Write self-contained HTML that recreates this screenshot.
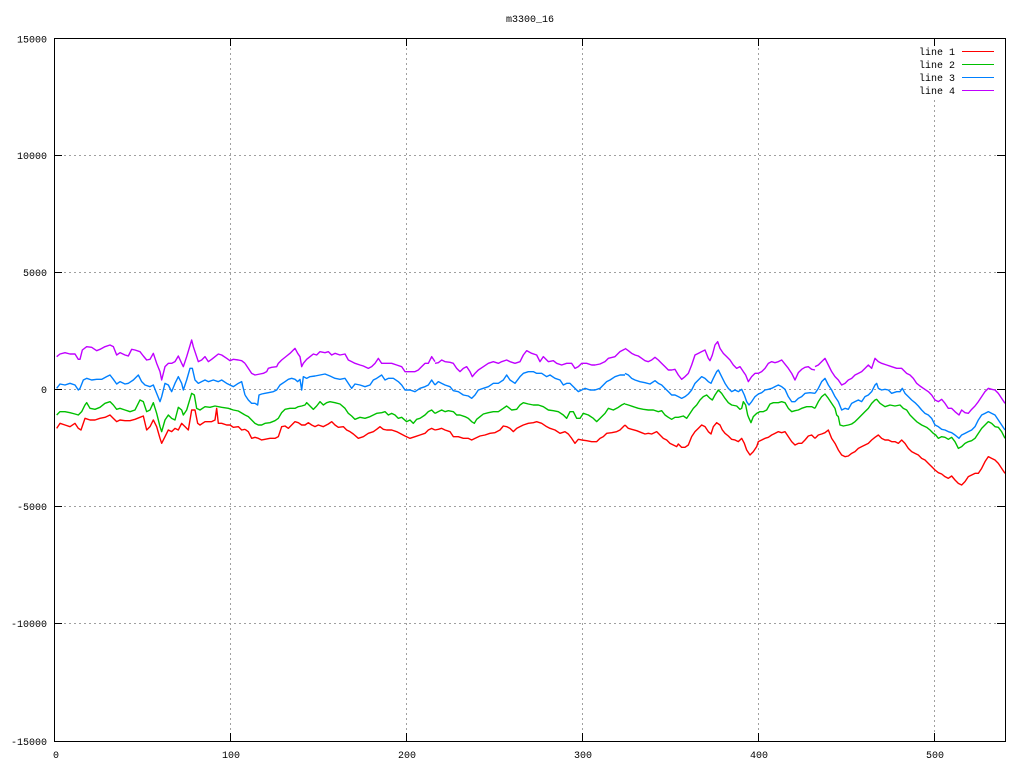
<!DOCTYPE html>
<html><head><meta charset="utf-8"><style>
html,body{margin:0;padding:0;background:#fff;}
svg{display:block;}
text{font-family:"Liberation Mono","DejaVu Sans Mono",monospace;font-size:10px;fill:#000;}
</style></head><body>
<svg width="1024" height="768" viewBox="0 0 1024 768" xmlns="http://www.w3.org/2000/svg">
<rect width="1024" height="768" fill="#fff"/>
<text x="530" y="22" text-anchor="middle">m3300_16</text>
<g stroke="#a0a0a0" stroke-width="1" stroke-dasharray="2,3" fill="none">
<line x1="230.5" y1="38" x2="230.5" y2="741"/>
<line x1="406.5" y1="38" x2="406.5" y2="741"/>
<line x1="582.5" y1="38" x2="582.5" y2="741"/>
<line x1="758.5" y1="38" x2="758.5" y2="741"/>
<line x1="934.5" y1="100" x2="934.5" y2="741"/>
<line x1="54" y1="155.5" x2="1005" y2="155.5"/>
<line x1="54" y1="272.5" x2="1005" y2="272.5"/>
<line x1="54" y1="389.5" x2="1005" y2="389.5"/>
<line x1="54" y1="506.5" x2="1005" y2="506.5"/>
<line x1="54" y1="623.5" x2="1005" y2="623.5"/>
</g>
<g stroke="#000" stroke-width="1" fill="none" shape-rendering="crispEdges">
<rect x="54.5" y="38.5" width="951" height="703"/>
<path d="M54 38.5h8M1005 38.5h-8M54 155.5h8M1005 155.5h-8M54 272.5h8M1005 272.5h-8M54 389.5h8M1005 389.5h-8M54 506.5h8M1005 506.5h-8M54 623.5h8M1005 623.5h-8M54 741.5h8M1005 741.5h-8"/>
<path d="M230.5 741v-8M230.5 38v8M406.5 741v-8M406.5 38v8M582.5 741v-8M582.5 38v8M758.5 741v-8M758.5 38v8M934.5 741v-8M934.5 38v8"/>
</g>
<g text-anchor="end">
<text x="47" y="42.5">15000</text>
<text x="47" y="159">10000</text>
<text x="47" y="276">5000</text>
<text x="47" y="393">0</text>
<text x="47" y="510">-5000</text>
<text x="47" y="627">-10000</text>
<text x="47" y="745">-15000</text>
</g>
<g text-anchor="middle">
<text x="56" y="758">0</text>
<text x="231" y="758">100</text>
<text x="407" y="758">200</text>
<text x="583" y="758">300</text>
<text x="759" y="758">400</text>
<text x="935" y="758">500</text>
</g>
<g text-anchor="end">
<text x="955" y="55">line 1</text>
<text x="955" y="68">line 2</text>
<text x="955" y="81">line 3</text>
<text x="955" y="94">line 4</text>
</g>
<g shape-rendering="crispEdges">
<line x1="962" y1="51.5" x2="994" y2="51.5" stroke="#ff0000"/>
<line x1="962" y1="64.5" x2="994" y2="64.5" stroke="#00c000"/>
<line x1="962" y1="77.5" x2="994" y2="77.5" stroke="#0080ff"/>
<line x1="962" y1="90.5" x2="994" y2="90.5" stroke="#c000ff"/>
</g>

<defs><clipPath id="c"><rect x="55" y="39" width="950" height="702"/></clipPath></defs>
<g clip-path="url(#c)" fill="none" stroke-width="1.4" stroke-linejoin="round">
<!-- segment 1 -->
<g transform="translate(55,330) scale(0.33333)">
<polyline vector-effect="non-scaling-stroke" stroke="#ff0000" points="5,295 15,280 30,285 45,290 60,280 70,295 78,300 90,265 105,270 120,270 135,265 150,262 165,255 175,265 185,275 195,270 210,272 225,272 240,268 255,262 265,258 275,300 285,290 295,270 305,290 315,325 320,340 330,320 340,300 350,305 360,295 370,300 380,280 390,290 400,300 410,240 420,240 428,280 435,285 450,275 470,275 480,270 485,235 490,280 500,280 515,285 525,285 535,292 550,290 560,300 570,298"/>
<polyline vector-effect="non-scaling-stroke" stroke="#00c000" points="5,255 15,245 30,245 45,248 60,252 70,255 80,245 90,225 95,218 105,235 120,238 135,232 150,220 165,215 175,225 185,238 195,235 210,240 225,245 240,240 255,210 265,215 275,245 285,240 295,218 305,250 315,290 320,305 330,270 340,255 350,265 360,270 370,232 380,240 385,255 395,240 410,190 418,195 425,235 435,240 450,230 465,232 480,228 500,232 520,235 535,240 550,243 570,255"/>
<polyline vector-effect="non-scaling-stroke" stroke="#0080ff" points="5,175 15,162 30,165 45,160 60,165 70,180 75,175 85,150 95,145 110,150 125,148 140,148 155,140 165,135 175,148 185,162 195,155 210,162 220,160 235,150 250,135 260,155 270,165 285,170 295,165 305,190 315,215 320,200 330,160 340,165 350,185 360,160 370,140 380,160 385,180 395,150 405,115 412,115 420,150 430,160 440,155 450,150 460,155 475,150 490,155 500,150 515,160 525,165 535,170 550,160 560,155 570,195"/>
<polyline vector-effect="non-scaling-stroke" stroke="#c000ff" points="5,80 15,72 30,68 45,72 60,72 70,88 75,88 82,60 95,50 110,52 125,62 135,58 150,50 165,45 175,50 185,75 195,68 210,75 220,78 230,58 240,60 255,65 265,78 275,90 285,88 295,70 305,100 315,125 320,150 330,110 340,100 350,100 360,95 370,78 380,100 385,110 395,80 410,30 415,50 425,80 430,95 440,90 450,80 460,95 470,88 480,80 490,72 500,75 515,85 525,92 535,88 550,90 560,92 570,100"/>
</g>
<!-- segment 2 -->
<g transform="translate(245,330) scale(0.33333)">
<polyline vector-effect="non-scaling-stroke" stroke="#ff0000" points="0,298 10,305 20,325 30,322 40,325 50,330 60,328 75,325 90,325 100,320 105,305 110,290 120,288 130,295 140,285 150,275 160,278 170,285 180,285 190,278 200,285 210,290 220,285 235,290 250,282 260,275 270,285 280,292 295,290 305,300 315,305 325,312 340,325 355,320 370,310 385,305 395,298 405,290 415,298 425,300 440,300 455,305 465,310 480,318 495,325 510,320 525,315 540,310 550,300 560,295 570,300"/>
<polyline vector-effect="non-scaling-stroke" stroke="#00c000" points="0,255 10,260 20,270 30,280 40,285 50,285 60,280 75,278 90,272 100,265 110,248 120,238 135,235 150,235 160,230 170,228 180,225 185,218 195,228 205,238 215,228 225,215 235,225 245,218 255,215 270,218 285,222 300,235 310,250 320,258 330,268 345,262 360,265 375,260 385,255 395,250 410,248 420,245 430,255 440,250 450,255 460,265 470,262 485,275 495,270 505,280 515,268 525,265 540,255 550,245 560,240 570,250"/>
<polyline vector-effect="non-scaling-stroke" stroke="#0080ff" points="0,195 10,210 20,220 30,220 38,225 42,195 50,192 60,190 70,188 85,185 95,180 105,165 120,155 130,148 140,145 150,148 158,155 165,148 170,180 175,140 185,145 195,140 210,138 225,135 240,132 255,138 270,145 285,148 300,145 310,160 320,175 330,162 345,165 360,170 375,165 385,150 395,145 410,135 420,150 430,145 445,145 460,155 470,165 480,180 495,180 510,185 525,175 540,170 550,165 560,150 570,165"/>
<polyline vector-effect="non-scaling-stroke" stroke="#c000ff" points="0,100 10,115 20,130 30,135 45,132 55,130 65,125 70,115 80,112 95,110 100,100 110,90 125,78 135,70 145,60 150,55 158,70 165,80 170,110 175,100 185,88 195,80 205,72 215,75 225,65 240,68 250,65 260,75 270,70 285,75 300,72 310,90 320,95 330,100 345,105 355,108 370,115 380,110 390,100 400,85 410,100 425,100 440,100 455,105 470,110 480,125 495,125 510,125 520,120 530,110 540,100 550,100 560,80 570,95"/>
</g>
<!-- segment 3 -->
<g transform="translate(435,330) scale(0.33333)">
<polyline vector-effect="non-scaling-stroke" stroke="#ff0000" points="0,300 10,298 20,295 30,300 45,305 55,320 70,320 85,325 100,325 110,330 120,325 135,318 150,315 165,310 180,308 195,300 205,288 215,290 225,295 235,305 245,295 255,290 265,285 280,280 295,278 305,275 320,280 335,290 345,295 360,300 375,310 390,305 400,312 410,325 420,340 430,328 440,330 455,332 470,335 485,335 495,325 505,320 515,310 530,308 545,305 555,300 570,285"/>
<polyline vector-effect="non-scaling-stroke" stroke="#00c000" points="0,250 10,245 20,240 30,245 40,242 55,245 65,255 75,255 90,260 100,265 110,275 118,280 125,268 135,260 145,252 160,248 175,245 190,245 205,235 215,228 230,240 245,238 255,225 265,218 280,222 295,225 310,225 325,230 340,240 355,242 370,245 385,255 395,265 405,245 415,245 425,265 435,265 445,250 460,255 475,265 485,275 495,265 510,250 520,235 535,240 550,232 560,225 570,220"/>
<polyline vector-effect="non-scaling-stroke" stroke="#0080ff" points="0,165 10,155 20,160 30,165 45,170 55,182 70,185 85,195 100,198 110,205 120,195 130,180 145,175 160,170 175,160 190,160 205,150 215,135 225,150 240,160 255,140 265,130 280,125 295,125 305,130 320,130 335,140 345,135 360,145 375,150 385,165 395,160 405,160 420,175 430,185 440,180 450,175 465,180 480,180 495,175 505,165 515,155 525,150 540,140 555,135 570,135"/>
<polyline vector-effect="non-scaling-stroke" stroke="#c000ff" points="0,100 10,98 20,90 30,95 45,97 55,100 65,115 75,125 85,115 95,110 105,125 112,140 120,130 130,120 145,110 160,100 175,95 190,100 200,95 215,90 225,95 240,100 255,95 265,75 275,62 290,70 305,75 315,95 325,80 340,95 355,92 365,100 380,105 395,100 410,100 420,115 430,110 440,100 455,100 470,105 480,105 495,102 510,95 520,85 540,80 555,65 570,57"/>
</g>
<!-- segment 4 -->
<g transform="translate(625,330) scale(0.33333)">
<polyline vector-effect="non-scaling-stroke" stroke="#ff0000" points="0,285 10,295 20,298 35,302 50,308 60,312 70,310 80,312 95,305 105,315 115,325 125,330 135,340 145,345 155,350 160,342 170,352 180,352 190,345 200,320 210,305 220,295 230,285 240,290 250,305 258,312 265,290 275,278 285,285 292,300 300,310 310,318 320,328 330,330 340,335 350,325 358,340 365,360 375,375 385,365 395,350 400,335 410,330 420,325 430,322 440,315 450,310 460,305 470,308 480,305 490,320 500,335 510,345 520,340 530,340 540,330 550,318 560,315 570,325"/>
<polyline vector-effect="non-scaling-stroke" stroke="#00c000" points="0,222 10,225 25,230 40,235 55,238 70,240 85,240 100,245 110,242 120,255 130,262 140,268 150,262 160,262 175,258 185,265 195,250 205,235 215,225 225,210 235,200 245,195 255,205 262,210 270,195 280,180 290,190 300,205 310,218 320,225 335,228 345,238 350,235 355,215 362,225 368,255 372,265 378,278 385,260 395,250 405,245 415,245 425,240 435,222 445,218 460,218 470,215 480,218 490,235 500,245 510,242 520,240 530,235 545,230 560,230 570,235"/>
<polyline vector-effect="non-scaling-stroke" stroke="#0080ff" points="0,130 10,135 20,145 30,150 45,155 60,158 75,162 90,152 100,160 110,165 120,175 130,185 140,195 150,195 160,200 170,205 180,200 190,192 200,180 210,160 220,150 230,140 240,145 250,155 258,160 265,145 275,125 280,120 290,140 300,160 310,175 320,185 330,180 340,185 350,178 358,195 365,215 372,225 380,215 390,200 400,192 410,188 420,180 430,178 440,175 450,170 460,165 470,170 480,178 490,200 500,215 510,215 520,205 530,200 540,190 555,188 570,190"/>
<polyline vector-effect="non-scaling-stroke" stroke="#c000ff" points="0,55 10,62 20,70 30,75 40,78 50,85 60,92 70,95 80,90 90,82 100,90 110,100 120,110 130,120 140,120 150,118 160,135 170,148 180,140 190,130 200,105 210,75 220,70 230,65 240,60 250,85 255,92 262,75 270,45 278,35 285,55 295,70 305,80 315,90 325,105 335,115 345,110 355,125 362,135 370,155 380,140 390,130 400,130 410,125 420,115 430,100 440,95 450,98 460,95 470,90 478,100 490,115 500,130 510,150 520,128 530,118 540,112 550,110 560,118 570,120"/>
</g>
<!-- segment 5 -->
<g transform="translate(815,350) scale(0.33333)">
<polyline vector-effect="non-scaling-stroke" stroke="#ff0000" points="0,265 10,255 20,252 30,248 40,240 50,265 60,280 70,300 80,315 90,320 100,318 110,310 120,305 130,295 140,290 150,285 160,280 170,270 180,262 190,255 200,265 210,270 220,270 230,275 240,275 250,280 260,270 270,280 280,295 290,305 300,310 310,315 320,325 330,330 340,340 350,350 360,360 370,368 380,372 390,380 400,385 410,378 420,390 430,400 440,405 450,395 460,380 470,375 480,370 490,370 500,355 510,335 520,320 530,325 540,330 550,340 560,355 570,370"/>
<polyline vector-effect="non-scaling-stroke" stroke="#00c000" points="0,175 10,155 20,140 30,132 40,145 50,160 60,175 65,195 70,200 75,225 85,228 100,225 110,222 120,215 130,205 140,195 150,185 160,175 170,160 180,150 185,148 195,160 210,170 225,165 240,168 255,165 265,175 275,180 285,195 295,205 305,215 320,225 335,232 345,240 355,250 362,255 370,265 380,260 390,262 400,268 410,262 420,275 430,295 440,290 450,280 460,275 470,272 480,265 490,250 500,235 510,225 520,215 530,220 540,230 550,232 560,245 570,265"/>
<polyline vector-effect="non-scaling-stroke" stroke="#0080ff" points="0,130 10,115 20,95 30,85 40,105 50,120 60,140 70,155 80,180 90,175 100,178 110,160 120,155 130,150 140,155 150,140 160,135 170,125 180,105 185,100 190,115 200,120 210,118 220,120 230,130 245,125 255,125 262,115 270,130 280,140 290,150 300,158 310,168 320,180 330,190 340,195 350,205 360,225 370,230 380,238 390,240 400,245 410,248 420,255 432,265 440,255 450,250 460,245 470,240 480,230 490,210 500,195 510,190 520,185 530,190 540,195 550,210 560,225 570,240"/>
<polyline vector-effect="non-scaling-stroke" stroke="#c000ff" points="0,50 10,45 20,35 30,25 40,45 50,65 60,80 70,90 80,105 90,100 100,90 110,85 120,75 130,70 140,65 150,55 160,45 170,55 180,25 190,35 200,40 215,45 230,50 245,55 260,55 275,70 285,75 295,85 305,100 315,108 325,115 340,125 350,135 360,150 370,155 380,148 390,160 400,175 410,175 420,185 432,195 440,180 450,188 460,190 470,178 480,168 490,155 500,140 510,125 520,115 530,118 540,120 550,130 560,145 570,160"/>
</g>
</g>
</svg>
</body></html>
